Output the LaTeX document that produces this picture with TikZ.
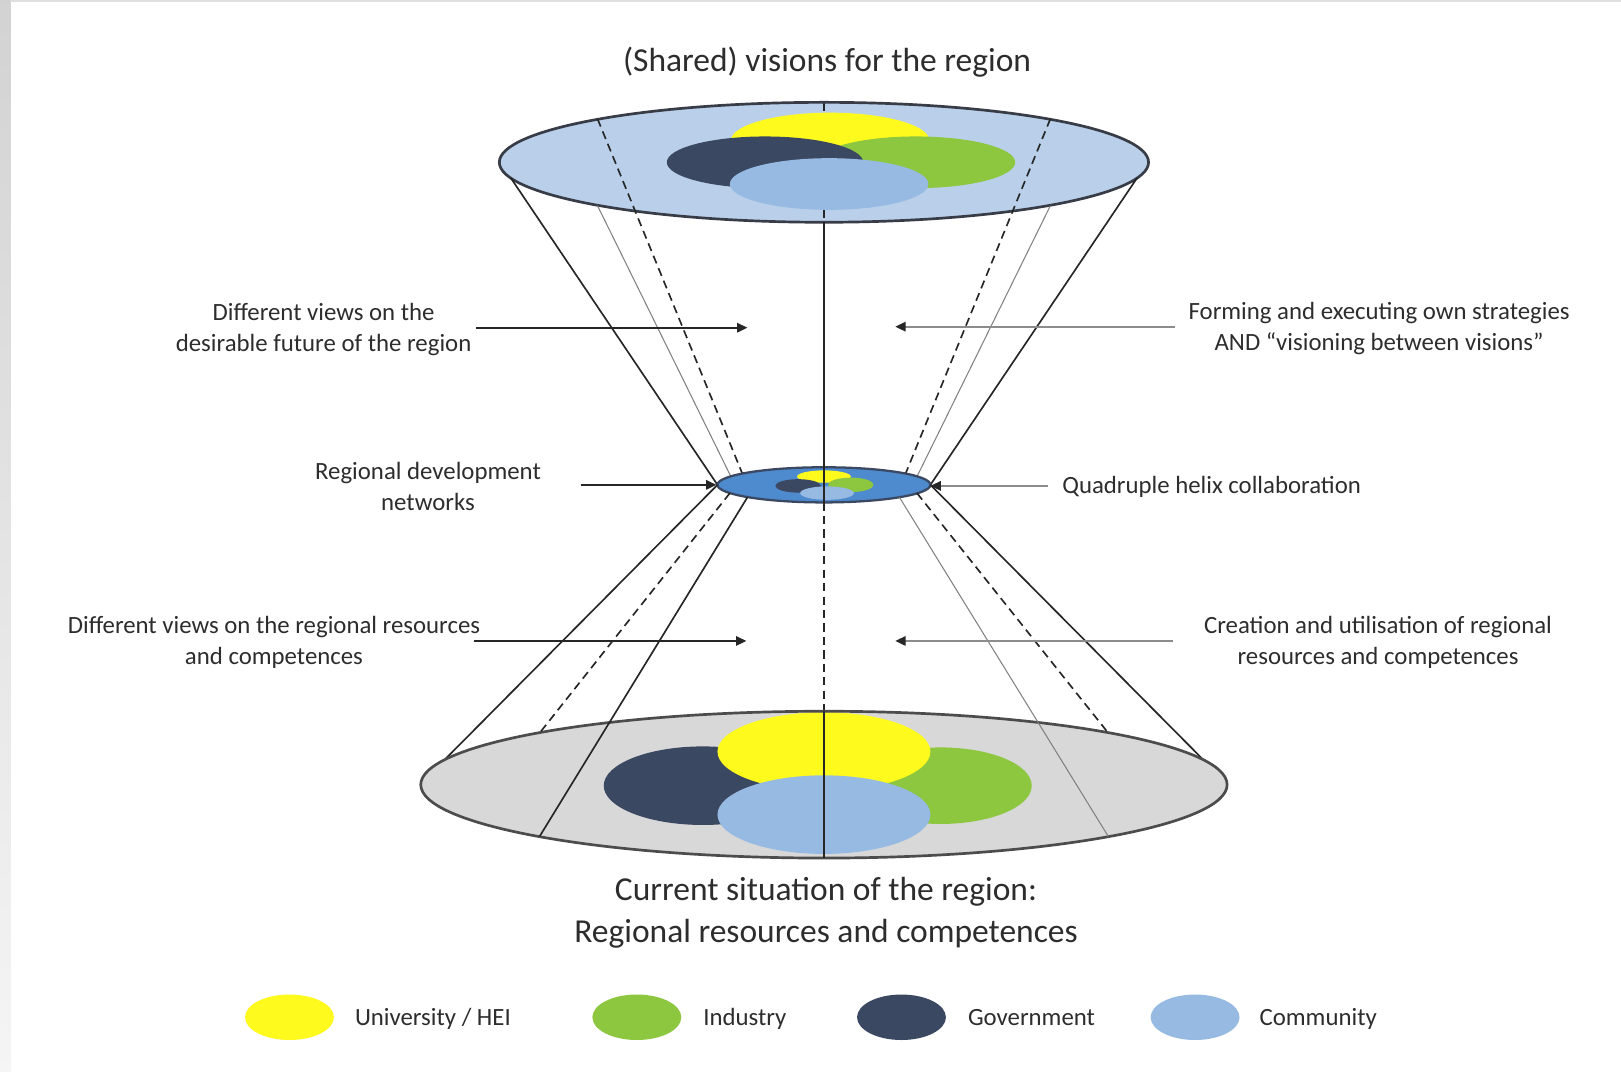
\documentclass[tikz,border=0pt]{standalone}
\usepackage{fontspec}
\setmainfont{Carlito}
\usetikzlibrary{arrows.meta}
\definecolor{uniyellow}{RGB}{255,250,30}
\definecolor{indgreen}{RGB}{141,198,63}
\definecolor{govnavy}{RGB}{59,72,97}
\definecolor{comblue}{RGB}{150,186,226}
\definecolor{topfill}{RGB}{186,208,234}
\definecolor{midfill}{RGB}{78,138,206}
\definecolor{botfill}{RGB}{216,216,216}
\definecolor{rimdark}{RGB}{55,60,70}
\definecolor{txtgray}{RGB}{45,45,45}
\begin{document}
\begin{tikzpicture}[x=0.5pt,y=-0.5pt,
  lbl/.style={font=\fontsize{12}{15}\selectfont, text=txtgray, align=center, inner sep=0pt},
  big/.style={font=\fontsize{16.2}{20}\selectfont, text=txtgray, align=center, inner sep=0pt},
  rim/.style={draw=rimdark, line width=1.3pt},
  cone/.style={draw=black!85, line width=0.8pt},
  back/.style={draw=black!85, line width=0.8pt, dash pattern=on 4pt off 2.5pt},
  front/.style={draw=black!50, line width=0.5pt},
  inarr/.style={draw=black!85, line width=1pt, -{Triangle[length=5pt,width=4.5pt]}},
  outarr/.style={draw=black!45, line width=1pt, -{Triangle[length=5pt,width=4.5pt,color=black!85]}}]
\useasboundingbox (0,0) rectangle (1568,1036);
\fill[white] (0,0) rectangle (1568,1036);
\shade[top color=gray!35, bottom color=gray!8] (0,0) rectangle (10,1036);
\fill[gray!25] (10,0) rectangle (1568,2);
% top disc: shared visions
\fill[topfill] (797,157) ellipse [x radius=314, y radius=58];
\draw[back] (797,99) -- (797,215);
\fill[uniyellow] (803,136) ellipse [x radius=96, y radius=27];
\fill[indgreen] (886,157) ellipse [x radius=96, y radius=25];
\fill[govnavy] (740,157) ellipse [x radius=95, y radius=25];
\fill[comblue] (802,178) ellipse [x radius=96, y radius=25];
\draw[rim] (797,157) ellipse [x radius=314, y radius=58];
% upper cone
\draw[cone] (494,172) -- (694,469);
\draw[cone] (1100,172) -- (900,469);
\draw[back] (578,115) -- (718,458);
\draw[back] (1016,115) -- (876,458);
\draw[front] (578,199) -- (707,461);
\draw[front] (1016,199) -- (887,461);
% middle disc: networks
\fill[midfill] (797,469) ellipse [x radius=103, y radius=17];
\fill[uniyellow] (797,461) ellipse [x radius=26, y radius=6];
\fill[indgreen] (823,469) ellipse [x radius=22, y radius=7];
\fill[govnavy] (772,470) ellipse [x radius=22, y radius=6.5];
\fill[comblue] (800,477) ellipse [x radius=26, y radius=6.5];
\draw[draw=govnavy, line width=1.1pt] (797,469) ellipse [x radius=103, y radius=17];
\draw[cone, line width=0.7pt] (797,215) -- (797,486);
\draw[back, line width=0.7pt] (797,486) -- (797,688);
% lower cone
\draw[cone] (694,469) -- (431,734);
\draw[cone] (900,469) -- (1163,734);
% bottom disc: current situation
\fill[botfill] (797,759) ellipse [x radius=390, y radius=71];
\fill[govnavy] (680,760) ellipse [x radius=96, y radius=38];
\fill[indgreen] (910,760) ellipse [x radius=88, y radius=37];
\fill[uniyellow] (797,727) ellipse [x radius=103, y radius=38];
\fill[comblue] (797,788) ellipse [x radius=103, y radius=38];
\draw[rim, draw=black!70] (797,759) ellipse [x radius=390, y radius=71];
\draw[back] (706,477) -- (522,709);
\draw[back] (887,477) -- (1072,709);
\draw[cone] (723,481) -- (522,809);
\draw[front] (870,481) -- (1072,809);
\draw[cone, line width=0.7pt] (797,688) -- (797,830);
% labels
\node[big] (title) at (800,60) {(Shared) visions for the region};
\node[lbl] (futL) at (313,319) {Different views on the\\desirable future of the region};
\node[lbl] (futR) at (1334,318) {Forming and executing own strategies\\AND “visioning between visions”};
\node[lbl] (netL) at (414,471) {Regional development\\networks};
\node[lbl] (helixR) at (1172,471) {Quadruple helix collaboration};
\node[lbl] (resL) at (265,621) {Different views on the regional resources\\and competences};
\node[lbl] (resR) at (1333,621) {Creation and utilisation of regional\\resources and competences};
\node[big] (now) at (799,883) {Current situation of the region:\\Regional resources and competences};
\coordinate (futLtip) at (723,317);
\coordinate (futRtip) at (866,316);
\coordinate (netLtip) at (693,469);
\coordinate (helixRtip) at (900,470);
\coordinate (resLtip) at (722,620);
\coordinate (resRtip) at (866,620);
\draw[inarr, shorten <=2pt] (futLtip -| futL.east) -- (futLtip);
\draw[outarr, shorten <=6.5pt] (futRtip -| futR.west) -- (futRtip);
\draw[inarr, shorten <=19pt] (netLtip -| netL.east) -- (netLtip);
\draw[outarr, shorten <=6.5pt] (helixRtip -| helixR.west) -- (helixRtip);
\draw[inarr, shorten <=-3pt] (resLtip -| resL.east) -- (resLtip);
\draw[outarr, shorten <=15pt] (resRtip -| resR.west) -- (resRtip);
% legend
\foreach \cx/\col in {280/uniyellow,616/indgreen,872/govnavy,1156/comblue}
  \fill[\col] (\cx,984) ellipse [x radius=43, y radius=22];
\node[lbl, anchor=base west] (keyuni) at (343,992) {University / HEI};
\node[lbl, anchor=base west] (keyind) at (680,992) {Industry};
\node[lbl, anchor=base west] (keygov) at (936,992) {Government};
\node[lbl, anchor=base west] (keycom) at (1218,992) {Community};
\end{tikzpicture}
\end{document}
